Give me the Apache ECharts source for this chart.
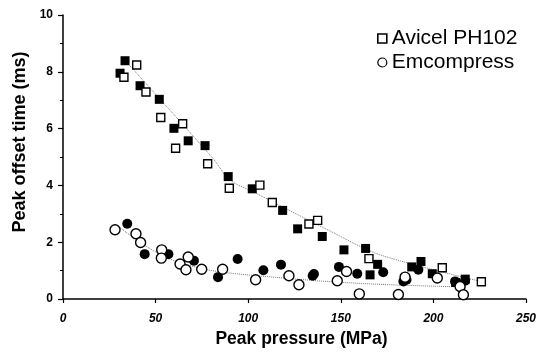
<!DOCTYPE html>
<html>
<head>
<meta charset="utf-8">
<script src="https://cdn.jsdelivr.net/npm/echarts@6/dist/echarts.min.js"></script>
<style>
html,body{margin:0;padding:0;background:#fff;}
#chart{width:539px;height:353px;}
</style>
</head>
<body>
<div id="chart"></div>
<script>
// ---- Data ----
var xTicks = [0, 50, 100, 150, 200, 250];
var yTicks = [0, 2, 4, 6, 8, 10];

// Avicel PH102 – open squares
var avicelOpen = [
  [32.9,7.81],[39.8,8.24],[44.8,7.29],[52.8,6.39],[64.6,6.17],[60.8,5.31],
  [78.1,4.76],[89.8,3.90],[106.3,4.01],[113.0,3.40],[132.8,2.64],[137.5,2.77],
  [165.2,1.42],[204.8,1.10],[225.9,0.61]
];
// Avicel PH102 – filled squares
var avicelFilled = [
  [33.5,8.39],[30.8,7.95],[41.6,7.51],[52.0,7.03],[59.9,6.01],[67.6,5.57],
  [76.7,5.40],[89.2,4.31],[102.2,3.88],[118.6,3.12],[126.7,2.47],[140.0,2.20],
  [151.7,1.73],[163.4,1.78],[169.9,1.22],[165.8,0.85],[188.3,1.13],[193.3,1.32],
  [199.4,0.89],[212.0,0.58],[217.2,0.70]
];
// Emcompress – open circles
var emcoOpen = [
  [28.1,2.44],[39.4,2.30],[41.9,1.99],[53.3,1.73],[53.1,1.44],[63.2,1.23],
  [66.4,1.03],[67.6,1.48],[74.9,1.05],[86.2,1.05],[104.0,0.68],[122.0,0.82],
  [127.4,0.50],[148.1,0.64],[153.1,0.97],[160.0,0.18],[181.1,0.16],[184.7,0.77],
  [202.1,0.74],[214.4,0.44],[216.2,0.15]
];
// Emcompress – filled circles
var emcoFilled = [
  [34.7,2.65],[44.1,1.58],[56.9,1.58],[70.7,1.35],[83.7,0.77],[94.3,1.41],
  [108.2,1.01],[117.7,1.21],[134.8,0.82],[135.5,0.88],[149.0,1.13],[158.9,0.89],
  [172.9,0.94],[183.8,0.62],[185.5,0.68],[191.9,1.03],[211.7,0.62],[217.1,0.64]
];
// Dotted trend curves
var avicelTrend = [
  [33.5,8.40],[81.0,4.95],[90.0,4.20],[105.0,3.70],[144.0,2.40],[171.0,1.56],[228.0,0.58]
];
var emcoTrend = [
  [30.0,2.55],[45.0,1.85],[60.0,1.35],[78.0,1.03],[92.0,0.90],[110.0,0.79],
  [142.0,0.62],[177.0,0.50],[218.0,0.42]
];

var FONT = '"Liberation Sans", Arial, Helvetica, sans-serif';
var chart = echarts.init(document.getElementById('chart'), null, {renderer:'canvas'});

var openStyle = {color:'#ffffff', borderColor:'#000', borderWidth:1.4, opacity:1};
var fillStyle = {color:'#000', borderColor:'#000', borderWidth:0, opacity:1};

chart.setOption({
  animation:false,
  backgroundColor:'#fff',
  grid:{left:63, right:13, top:15, bottom:54},
  legend:{
    orient:'vertical', left:372, top:23,
    itemWidth:9, itemHeight:9, itemGap:3,
    textStyle:{fontFamily:FONT, fontSize:21, color:'#000'},
    data:[
      {name:'Avicel PH102', icon:'rect', itemStyle:{color:'#fff', borderColor:'#000', borderWidth:1.6}},
      {name:'Emcompress', icon:'circle', itemStyle:{color:'#fff', borderColor:'#000', borderWidth:1.2}}
    ]
  },
  xAxis:{
    type:'value', min:xTicks[0], max:xTicks[xTicks.length-1], interval:50,
    name:'Peak pressure (MPa)', nameLocation:'middle', nameGap:30,
    nameTextStyle:{fontFamily:FONT, fontSize:17.5, fontWeight:'bold', color:'#000', padding:[0,0,0,14]},
    axisLine:{lineStyle:{color:'#000', width:1.5}},
    axisTick:{show:true, inside:false, length:4, lineStyle:{color:'#000', width:1.2}},
    axisLabel:{fontFamily:FONT, fontSize:12, fontWeight:'bold', fontStyle:'italic', color:'#000', margin:14},
    splitLine:{show:false}
  },
  yAxis:{
    type:'value', min:yTicks[0], max:yTicks[yTicks.length-1], interval:2,
    name:'Peak offset time (ms)', nameLocation:'middle', nameGap:33,
    nameTextStyle:{fontFamily:FONT, fontSize:18, fontWeight:'bold', color:'#000', padding:[0,0,0,30]},
    axisLine:{show:true, lineStyle:{color:'#000', width:1.5}},
    axisTick:{show:true, inside:false, length:5, lineStyle:{color:'#000', width:1.2}},
    minorTick:{show:true, splitNumber:2, length:3, lineStyle:{color:'#000', width:1}},
    axisLabel:{fontFamily:FONT, fontSize:12, fontWeight:'bold', color:'#000', margin:10},
    splitLine:{show:false}
  },
  series:[
    {name:'avicel-trend', type:'line', data:avicelTrend, smooth:0.3, showSymbol:false, symbol:'none',
     lineStyle:{color:'#777', width:1, type:'dotted'}, z:1, silent:true},
    {name:'emco-trend', type:'line', data:emcoTrend, smooth:0.3, showSymbol:false, symbol:'none',
     lineStyle:{color:'#777', width:1, type:'dotted'}, z:1, silent:true},
    {name:'Avicel PH102', type:'scatter', data:avicelOpen, symbol:'rect', symbolSize:8, itemStyle:openStyle, z:3},
    {name:'Avicel filled', type:'scatter', data:avicelFilled, symbol:'rect', symbolSize:9, itemStyle:fillStyle, z:2},
    {name:'Emcompress', type:'scatter', data:emcoOpen, symbol:'circle', symbolSize:10, itemStyle:openStyle, z:3},
    {name:'Emcompress filled', type:'scatter', data:emcoFilled, symbol:'circle', symbolSize:10, itemStyle:fillStyle, z:2}
  ]
});
</script>
</body>
</html>
